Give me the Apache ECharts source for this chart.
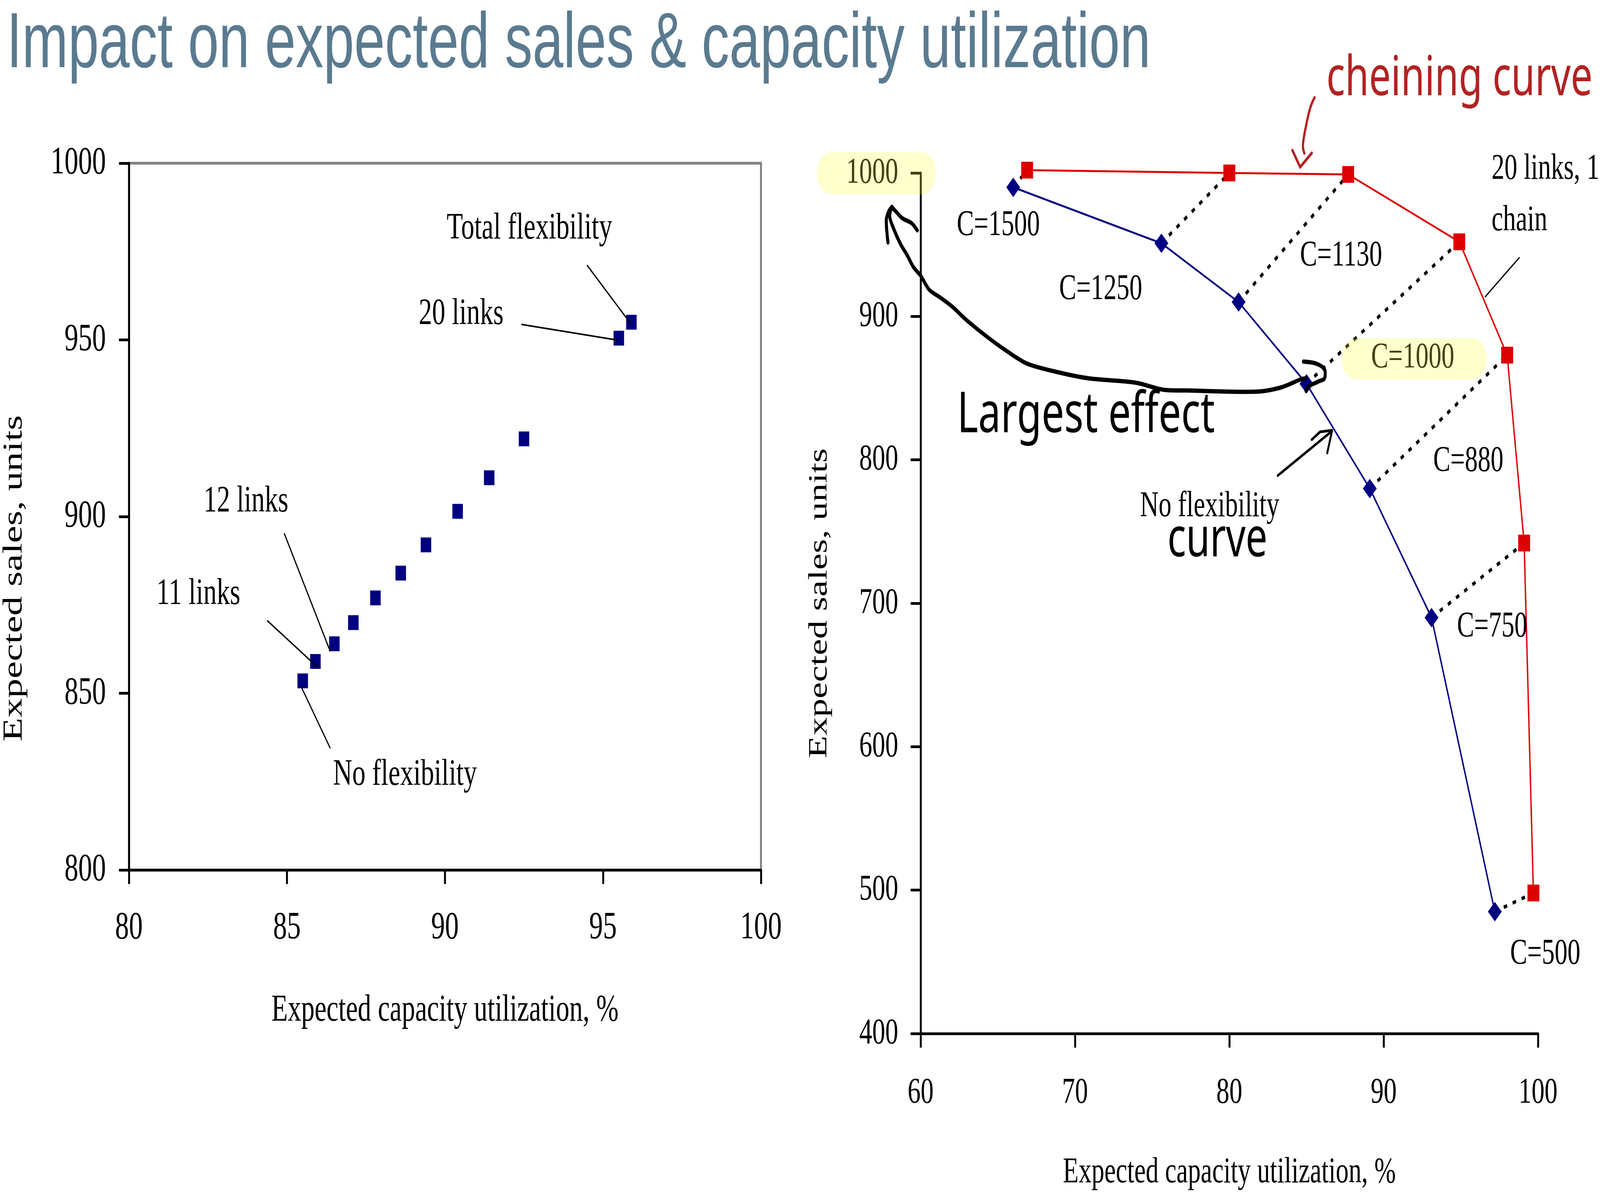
<!DOCTYPE html>
<html>
<head>
<meta charset="utf-8">
<title>Impact on expected sales &amp; capacity utilization</title>
<script src="https://cdn.jsdelivr.net/npm/echarts@6/dist/echarts.min.js"></script>
<style>
  html, body { margin: 0; padding: 0; background: #fff; overflow: hidden; }
  #frame { position: fixed; left: 0; top: 0; width: 100vw; height: 100vh; overflow: hidden; }
  #chart { width: 5784px; height: 3063px; transform-origin: 0 0; }
</style>
</head>
<body>
<div id="frame"><div id="chart"></div></div>
<script>
// left panel: one point per flexibility configuration (no flexibility ... total flexibility)
var linkUtil = [85.5, 85.9, 86.5, 87.1, 87.8, 88.6, 89.4, 90.4, 91.4, 92.5, 95.5, 95.9]
var linkSales = [853.5, 859, 864, 870, 877, 884, 892, 901.5, 911, 922, 950.5, 955]

// right panel: capacity levels, no flexibility vs. 20 links / 1 chain
var capacity = ['C=1500', 'C=1250', 'C=1130', 'C=1000', 'C=880', 'C=750', 'C=500']
var noFlexUtil = [66.0, 75.6, 80.6, 85.0, 89.1, 93.1, 97.2]
var noFlexSales = [990, 951, 910, 853, 780, 690, 485]
var chainUtil = [66.9, 80.0, 87.7, 94.9, 98.0, 99.1, 99.7]
var chainSales = [1002, 1000, 999, 952, 873, 742, 498]

// axis ranges [min, max, interval]
var leftX = [80, 100, 5]
var leftY = [800, 1000, 50]
var rightX = [60, 100, 10]
var rightY = [400, 1000, 100]

// layout is drawn on a 5784 x 3063 board, then fitted to the window
var W = 5784, H = 3063
var sx = window.innerWidth / W
var sy = window.innerHeight / H
var dom = document.getElementById('chart')
dom.style.transform = 'scale(' + sx + ',' + sy + ')'

var SERIF = '"Liberation Serif", "Times New Roman", serif'
var HAND = '"Noto Sans", sans-serif'
var chart = echarts.init(dom, null, { devicePixelRatio: (window.devicePixelRatio || 1) * Math.max(sx, sy) })

function axis(range, grid, label, extra) {
  var a = {
    gridIndex: grid,
    type: 'value',
    min: range[0],
    max: range[1],
    interval: range[2],
    axisLine: { onZero: false, lineStyle: { color: '#000', width: 7 } },
    axisTick: { length: 36, lineStyle: { color: '#000', width: 7 } },
    axisLabel: {
      color: '#000', fontFamily: SERIF, fontSize: label[0], margin: label[1],
      formatter: function (v) { return String(v) }
    },
    splitLine: { show: false }
  }
  return Object.assign(a, extra || {})
}

function txt(x, y, s, size, align, font, color) {
  return {
    type: 'text', x: x, y: y, z: 50,
    style: {
      text: s, fontSize: size, fontFamily: font || SERIF,
      fill: color || '#000', align: align || 'center', verticalAlign: 'middle'
    }
  }
}

function seg(points, width, color, smooth) {
  return {
    type: 'polyline', z: 50,
    shape: { points: points, smooth: smooth || 0 },
    style: { stroke: color || '#000', lineWidth: width, fill: null, lineCap: 'round', lineJoin: 'round' }
  }
}

function highlight(x, y, w, h) {
  return {
    type: 'rect', z: 200,
    shape: { x: x, y: y, width: w, height: h, r: h / 2 },
    style: { fill: 'rgba(255,255,60,0.26)' }
  }
}

// dotted connectors between the two curves at equal capacity
var pairSeries = capacity.map(function (c, i) {
  return {
    name: c,
    type: 'line',
    xAxisIndex: 1,
    yAxisIndex: 1,
    data: [[noFlexUtil[i], noFlexSales[i]], [chainUtil[i], chainSales[i]]],
    symbol: 'none',
    silent: true,
    clip: false,
    z: 1,
    lineStyle: { color: '#000', width: 9, type: [13, 21] }
  }
})

var option = {
  animation: false,
  backgroundColor: '#fff',
  grid: [
    { left: 466, top: 418, width: 2285, height: 1810, show: true, borderColor: '#808080', borderWidth: 7 },
    { left: 3328, top: 443, width: 2232, height: 2204 }
  ],
  xAxis: [
    axis(leftX, 0, [100, 99], {
      name: 'Expected capacity utilization, %', nameLocation: 'middle', nameGap: 312,
      nameTextStyle: { color: '#000', fontFamily: SERIF, fontSize: 97 }
    }),
    axis(rightX, 1, [94, 105], {
      name: 'Expected capacity utilization, %', nameLocation: 'middle', nameGap: 310,
      nameTextStyle: { color: '#000', fontFamily: SERIF, fontSize: 93 }
    })
  ],
  yAxis: [
    axis(leftY, 0, [100, 83]),
    axis(rightY, 1, [94, 81], {
      name: 'Expected sales, units', nameLocation: 'middle', nameGap: 317,
      nameTextStyle: { color: '#000', fontFamily: SERIF, fontSize: 95 }
    })
  ],
  series: [
    {
      name: 'Flexibility configurations',
      type: 'scatter',
      xAxisIndex: 0,
      yAxisIndex: 0,
      data: linkUtil.map(function (u, i) { return [u, linkSales[i]] }),
      symbol: 'rect',
      symbolSize: 38,
      itemStyle: { color: '#000080', opacity: 1 }
    },
    {
      name: 'No flexibility',
      type: 'line',
      xAxisIndex: 1,
      yAxisIndex: 1,
      data: noFlexUtil.map(function (u, i) { return [u, noFlexSales[i]] }),
      symbol: 'diamond',
      symbolSize: 50,
      clip: false,
      z: 3,
      itemStyle: { color: '#000080' },
      lineStyle: { color: '#000080', width: 5 }
    },
    {
      name: '20 links, 1 chain',
      type: 'line',
      xAxisIndex: 1,
      yAxisIndex: 1,
      data: chainUtil.map(function (u, i) { return [u, chainSales[i]] }),
      symbol: 'rect',
      symbolSize: 43,
      clip: false,
      z: 4,
      itemStyle: { color: '#dd0000' },
      lineStyle: { color: '#dd0000', width: 5 }
    }
  ].concat(pairSeries),
  graphic: [
    {
      type: 'text', x: 24, y: 117,
      style: {
        text: 'Impact on expected sales & capacity utilization',
        fontSize: 200, fontFamily: '"Liberation Sans", Arial, sans-serif',
        fill: '#5a7a90', verticalAlign: 'middle'
      }
    },
    // left y title sits below the axis centre
    {
      type: 'text', x: 52, y: 1481, rotation: Math.PI / 2,
      style: {
        text: 'Expected sales, units', fontSize: 100, fontFamily: SERIF,
        fill: '#000', align: 'center', verticalAlign: 'middle'
      }
    },

    // left panel callouts
    txt(1914, 586, 'Total flexibility', 96),
    seg([[2123, 680], [2279, 828]], 4),
    txt(1667, 805, '20 links', 96),
    seg([[1886, 831], [2232, 871]], 4),
    txt(889, 1285, '12 links', 96),
    seg([[1028, 1367], [1193, 1667]], 4),
    txt(717, 1522, '11 links', 96),
    seg([[967, 1590], [1147, 1708]], 4),
    txt(1464, 1985, 'No flexibility', 96),
    seg([[1193, 1915], [1091, 1762]], 4),

    // right panel capacity labels
    txt(3609, 578, capacity[0], 93),
    txt(3979, 742, capacity[1], 93),
    txt(4848, 656, capacity[2], 93),
    txt(5107, 917, capacity[3], 93),
    txt(5308, 1182, capacity[4], 93),
    txt(5394, 1606, capacity[5], 93),
    txt(5586, 2444, capacity[6], 93),
    txt(5392, 434, '20 links, 1', 93, 'left'),
    txt(5392, 566, 'chain', 93, 'left'),
    seg([[5492, 660], [5369, 760]], 4),
    txt(4373, 1298, 'No flexibility', 93),
    seg([[4619, 1218], [4815, 1104]], 7),
    seg([[4742, 1126], [4772, 1106], [4815, 1102]], 7),
    seg([[4815, 1104], [4798, 1160]], 7),

    // handwritten notes
    txt(4401, 1385, 'curve', 140, 'center', HAND),
    txt(3926, 1066, 'Largest effect', 145, 'center', HAND),
    txt(5276, 204, 'cheining curve', 140, 'center', HAND, '#b22222'),
    seg([[4752, 250], [4737, 275], [4722, 320], [4710, 372], [4715, 392]], 8, '#b22222', 0.4),
    seg([[4672, 385], [4700, 428], [4742, 392]], 8, '#b22222'),
    seg([[3224, 530], [3216, 554], [3233, 590], [3256, 626], [3279, 653], [3302, 684], [3328, 706],
      [3359, 742], [3399, 762], [3445, 787], [3491, 818], [3560, 858], [3629, 894], [3712, 931],
      [3829, 954], [3936, 969], [4105, 980], [4204, 998], [4293, 1000], [4543, 1003], [4632, 992],
      [4704, 971], [4720, 969]], 11, '#000', 0.3),
    seg([[4712, 926], [4757, 931], [4788, 946], [4788, 969], [4766, 977], [4730, 990], [4721, 1001]], 11, '#000', 0.3),
    seg([[3210, 621], [3204, 563], [3213, 541], [3224, 530]], 11, '#000', 0.3),
    seg([[3224, 530], [3244, 546], [3262, 559], [3296, 572], [3316, 590]], 11, '#000', 0.3),

    // highlighter marks
    highlight(2953, 390, 430, 108),
    highlight(4850, 866, 524, 106)
  ]
}

chart.setOption(option)
</script>
</body>
</html>
